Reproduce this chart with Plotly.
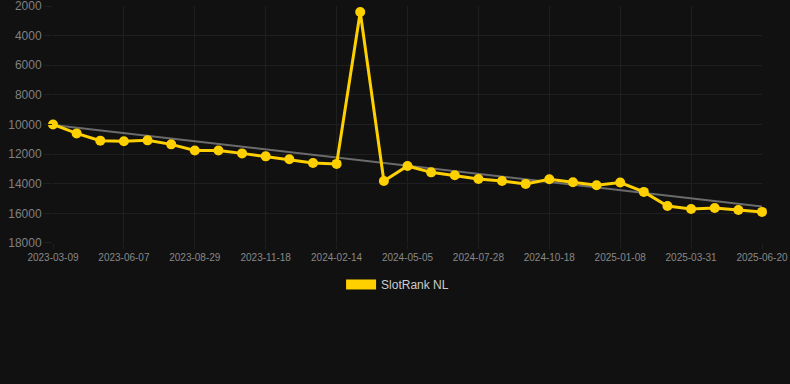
import numpy as np
import plotly.graph_objects as go

dates = [
    "2023-03-09", "2023-04-08", "2023-05-08",
    "2023-06-07", "2023-07-05", "2023-08-02",
    "2023-08-29", "2023-09-25", "2023-10-22",
    "2023-11-18", "2023-12-17", "2024-01-15",
    "2024-02-14", "2024-03-12", "2024-04-08",
    "2024-05-05", "2024-06-02", "2024-06-30",
    "2024-07-28", "2024-08-24", "2024-09-21",
    "2024-10-18", "2024-11-14", "2024-12-12",
    "2025-01-08", "2025-02-04", "2025-03-04",
    "2025-03-31", "2025-04-27", "2025-05-24",
    "2025-06-20",
]
ranks = [
    10000, 10600, 11090, 11130, 11070, 11340, 11750, 11750, 11950, 12150,
    12350, 12600, 12660, 2400, 13810, 12800, 13230, 13430, 13680, 13810,
    14010, 13700, 13900, 14100, 13920, 14550, 15500, 15700, 15640, 15770,
    15900,
]
tick_labels = dates[::3]
y_ticks = [2000, 4000, 6000, 8000, 10000, 12000, 14000, 16000, 18000]
y_tick_text = [str(v) for v in y_ticks]

idx = np.arange(len(ranks))
slope, intercept = np.polyfit(idx, ranks, 1)
trend = slope * idx + intercept

GRID = "#1f1f1f"

fig = go.Figure()
fig.add_trace(go.Scatter(
    x=dates, y=trend, mode="lines",
    line=dict(color="#6b6b6b", width=2),
    showlegend=False, hoverinfo="skip", cliponaxis=False,
))
fig.add_trace(go.Scatter(
    x=dates, y=ranks, mode="lines+markers", name="SlotRank NL",
    line=dict(color="#FFD000", width=3),
    marker=dict(color="#FFD000", size=10),
    showlegend=False, cliponaxis=False,
))
fig.add_trace(go.Scatter(
    x=[None], y=[None], mode="lines", name="SlotRank NL",
    line=dict(color="#FFD000", width=12),
))

fig.update_layout(
    width=790, height=384,
    margin=dict(l=53, r=28, t=6, b=141),
    paper_bgcolor="#111111", plot_bgcolor="#111111",
    font=dict(family="Arial, Liberation Sans, sans-serif", color="#888888"),
    legend=dict(
        orientation="h", x=0.486, xanchor="center", y=-0.175, yanchor="middle",
        font=dict(size=12, color="#cccccc"), bgcolor="rgba(0,0,0,0)",
    ),
    xaxis=dict(
        type="category", range=[0, len(dates) - 1], automargin=False,
        tickmode="array", tickvals=tick_labels, ticktext=tick_labels,
        showgrid=True, gridcolor=GRID, gridwidth=1,
        zeroline=False, showline=False,
        ticks="outside", ticklen=5, tickcolor=GRID,
        tickfont=dict(size=10, color="#888888"),
    ),
    yaxis=dict(
        range=[18000.5, 1999.5], tickmode="array", tickvals=y_ticks,
        ticktext=y_tick_text, ticklabeloverflow="allow", automargin=False,
        showgrid=True, gridcolor=GRID, gridwidth=1,
        zeroline=False, showline=False,
        ticks="outside", ticklen=8, tickcolor=GRID,
        tickfont=dict(size=12, color="#808080"),
    ),
)

fig.write_html("out.html")
